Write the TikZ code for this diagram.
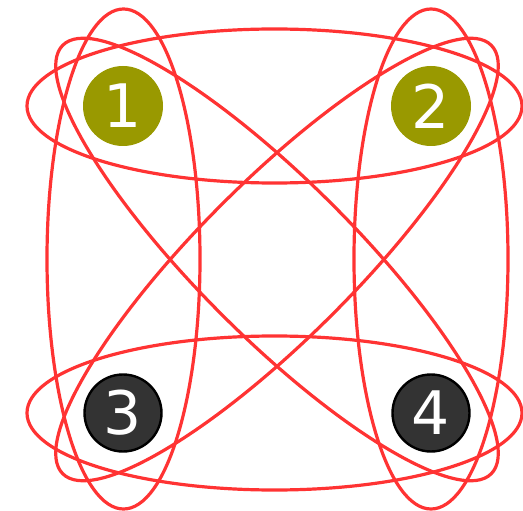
\documentclass[tikz,border=0pt]{standalone}
\usepackage{fontspec}
\setmainfont{DejaVu Sans}
\definecolor{hred}{HTML}{FF3333}
\definecolor{olivec}{HTML}{999900}
\definecolor{darkc}{HTML}{333333}
\begin{document}
\begin{tikzpicture}[x=1pt,y=-1pt,
  hedge/.style={draw=hred, line width=3.2pt},
  vbase/.style={circle, minimum size=80pt, inner sep=0pt, text=white, font=\fontsize{60}{60}\selectfont},
  vtop/.style={vbase, fill=olivec},
  vbot/.style={vbase, fill=darkc, draw=black, line width=2.4pt, minimum size=77pt}]
\useasboundingbox (0,0) rectangle (523,511);
\coordinate (ct) at (274.5,106);
\coordinate (cb) at (274.5,413);
\coordinate (cl) at (123.5,259);
\coordinate (cr) at (431,259);
\coordinate (cm) at (277,259.5);
\draw[hedge] (ct) ellipse [x radius=247.5, y radius=77];
\draw[hedge] (cb) ellipse [x radius=247.5, y radius=77];
\draw[hedge] (cl) ellipse [x radius=76.5, y radius=250];
\draw[hedge] (cr) ellipse [x radius=77, y radius=250];
\draw[hedge, rotate around={-45:(cm)}] (cm) ellipse [x radius=303, y radius=78];
\draw[hedge, rotate around={45:(cm)}] (cm) ellipse [x radius=303, y radius=78];
\node[vtop] (n1) at (123,106) {1};
\node[vtop] (n2) at (431,106) {2};
\node[vbot] (n3) at (123,413) {3};
\node[vbot] (n4) at (431,413) {4};
\end{tikzpicture}
\end{document}
